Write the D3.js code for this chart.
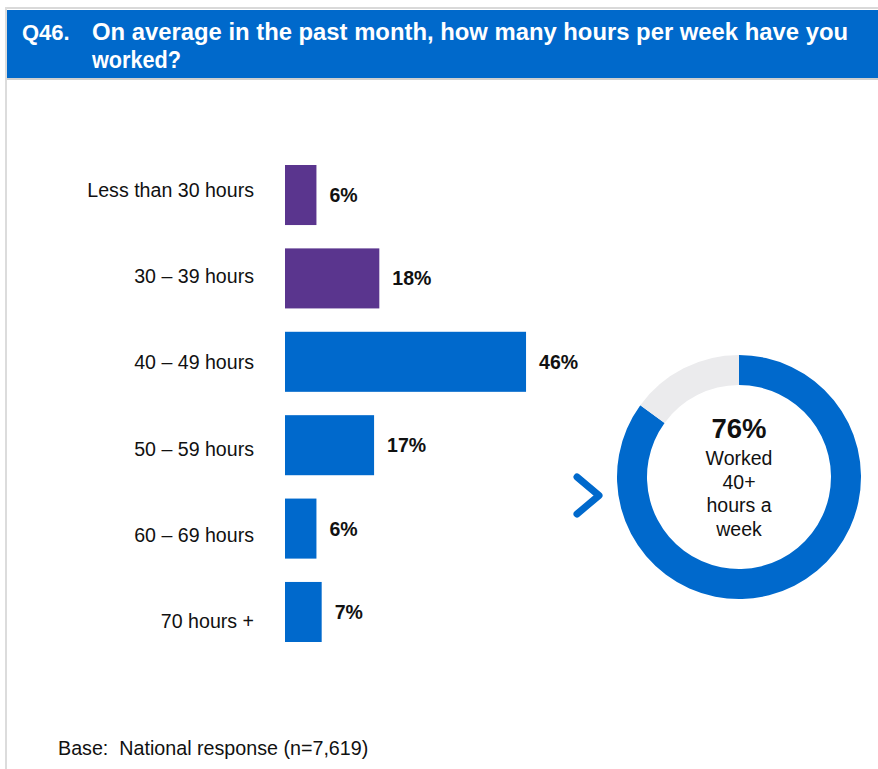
<!DOCTYPE html>
<html>
<head>
<meta charset="utf-8">
<script src="https://cdn.jsdelivr.net/npm/d3@7"></script>
<style>
  html, body { margin: 0; padding: 0; background: #fff; }
  svg { display: block; font-family: "Liberation Sans", Arial, sans-serif; }
</style>
</head>
<body>
<svg id="chart" width="878" height="769"></svg>
<script>
// ---- Data ----
const titleLines = ["On average in the past month, how many hours per week have you", "worked?"];
const questionId = "Q46.";
const categories = ["Less than 30 hours", "30 \u2013 39 hours", "40 \u2013 49 hours", "50 \u2013 59 hours", "60 \u2013 69 hours", "70 hours +"];
const values = [6, 18, 46, 17, 6, 7];
const groups = ["under40", "under40", "40plus", "40plus", "40plus", "40plus"];
const donutLabels = ["40plus", "other"];
const donutValues = [85, 15];
const donutHeadline = "76%";
const donutTextLines = ["Worked", "40+", "hours a", "week"];
const baseNote = "Base:  National response (n=7,619)";

// ---- Styles ----
const BLUE = "#0069CC";
const PURPLE = "#5A358E";
const GREY = "#EBEBED";

const svg = d3.select("#chart");

// Frame
svg.append("rect").attr("x", 5).attr("y", 7).attr("width", 873).attr("height", 2).attr("fill", "#d9d9d9");
svg.append("rect").attr("x", 5).attr("y", 7).attr("width", 2).attr("height", 762).attr("fill", "#dcdcdc");
svg.append("rect").attr("x", 7).attr("y", 10).attr("width", 871).attr("height", 68).attr("fill", "#0069CB");
svg.append("rect").attr("x", 7).attr("y", 78).attr("width", 871).attr("height", 2).attr("fill", "#cfcfcf");

// Title
svg.append("text").attr("x", 22).attr("y", 40)
  .attr("fill", "#fff").attr("font-weight", "bold").attr("font-size", 22)
  .text(questionId);
const t1 = svg.append("text")
  .attr("x", 92).attr("y", 40)
  .attr("fill", "#fff").attr("font-weight", "bold").attr("font-size", 23)
  .attr("textLength", 756).attr("lengthAdjust", "spacingAndGlyphs")
  .text(titleLines[0]);
svg.append("text")
  .attr("x", 92).attr("y", 68)
  .attr("fill", "#fff").attr("font-weight", "bold").attr("font-size", 23)
  .attr("textLength", 89).attr("lengthAdjust", "spacingAndGlyphs")
  .text(titleLines[1]);

// Scales
const x = d3.scaleLinear().domain([0, 100]).range([285, 285 + 524]);
const y = d3.scaleBand().domain(categories).range([165, 642]).paddingInner(0.28).paddingOuter(0);
const yLabel = d3.scalePoint().domain(categories).range([190, 621]);
const color = d3.scaleOrdinal().domain(["under40", "40plus"]).range([PURPLE, BLUE]);

const rows = categories.map((c, i) => ({ cat: c, v: values[i], g: groups[i] }));

// Bars
svg.selectAll("rect.bar").data(rows).join("rect")
  .attr("class", "bar")
  .attr("x", x(0))
  .attr("y", d => y(d.cat))
  .attr("width", d => x(d.v) - x(0))
  .attr("height", y.bandwidth())
  .attr("fill", d => color(d.g));

// Value labels
svg.selectAll("text.val").data(rows).join("text")
  .attr("class", "val")
  .attr("x", d => x(d.v) + 13)
  .attr("y", d => y(d.cat) + y.bandwidth() / 2 + 7)
  .attr("font-weight", "bold").attr("font-size", 19.5).attr("fill", "#111")
  .text(d => d.v + "%");

// Category labels
svg.selectAll("text.cat").data(rows).join("text")
  .attr("class", "cat")
  .attr("x", 254)
  .attr("y", d => yLabel(d.cat) + 7)
  .attr("text-anchor", "end")
  .attr("font-size", 19.6).attr("fill", "#111")
  .attr("xml:space", "preserve")
  .text(d => d.cat);

// Donut
const cx = 739, cy = 477;
const pie = d3.pie().sort(null).value(d => d.v);
const arc = d3.arc().innerRadius(92).outerRadius(122);
const donutColor = d3.scaleOrdinal().domain(donutLabels).range([BLUE, GREY]);
const dg = svg.append("g").attr("transform", `translate(${cx},${cy})`);
dg.selectAll("path").data(pie(donutLabels.map((l, i) => ({ l, v: donutValues[i] })))).join("path")
  .attr("d", arc)
  .attr("fill", d => donutColor(d.data.l));

dg.append("text").attr("x", 0).attr("y", -39)
  .attr("text-anchor", "middle").attr("font-weight", "bold").attr("font-size", 27.5).attr("fill", "#111")
  .text(donutHeadline);
dg.selectAll("text.dl").data(donutTextLines).join("text")
  .attr("class", "dl")
  .attr("x", 0).attr("y", (d, i) => -12 + i * 23.5)
  .attr("text-anchor", "middle").attr("font-size", 19.5).attr("fill", "#111")
  .text(d => d);

// Chevron
svg.append("path")
  .attr("d", d3.line()([[577, 477], [599, 495.5], [577, 514]]))
  .attr("fill", "none").attr("stroke", BLUE).attr("stroke-width", 7)
  .attr("stroke-linecap", "round").attr("stroke-linejoin", "round");

// Base note
svg.append("text").attr("x", 58).attr("y", 755)
  .attr("font-size", 19.7).attr("fill", "#111")
  .attr("xml:space", "preserve")
  .text(baseNote);
</script>
</body>
</html>
